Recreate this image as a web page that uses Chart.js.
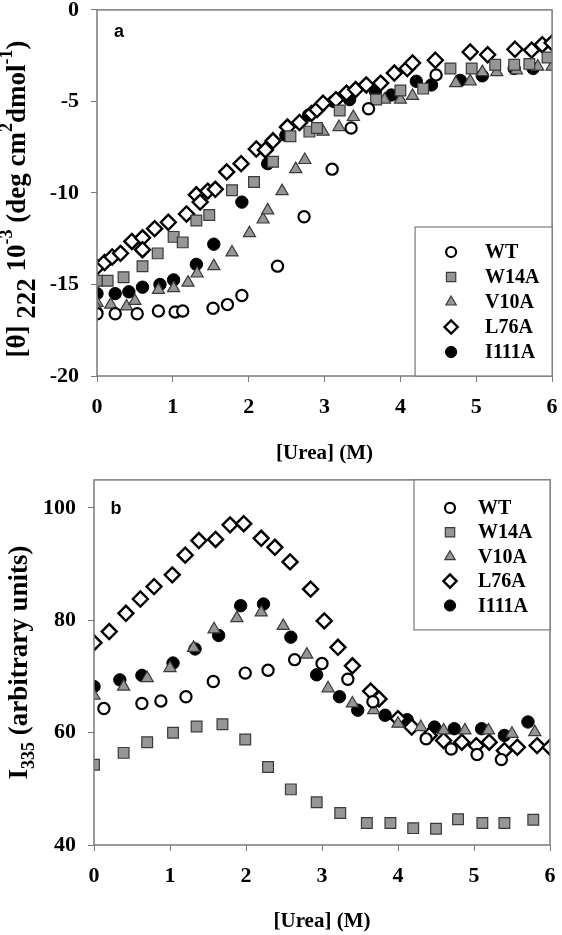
<!DOCTYPE html>
<html>
<head>
<meta charset="utf-8">
<script src="https://cdn.jsdelivr.net/npm/chart.js@4.4.1/dist/chart.umd.min.js"></script>
<style>
  body { margin: 0; background: #fff; }
  #wrapA { position: absolute; left: 0; top: 0; width: 562px; height: 470px; }
  #wrapB { position: absolute; left: 0; top: 470px; width: 562px; height: 465px; }
</style>
</head>
<body>
<div id="wrapA"><canvas id="chartA"></canvas></div>
<div id="wrapB"><canvas id="chartB"></canvas></div>
<script>
// ---- data ----
const seriesNames = ['WT', 'W14A', 'V10A', 'L76A', 'I111A'];
const ureaTicks = [0, 1, 2, 3, 4, 5, 6];
const cdTicks = [0, -5, -10, -15, -20];
const flTicks = [40, 60, 80, 100];

// panel a: [theta]222 (x10^-3)
const cdWT_urea = [0, 0.24, 0.53, 0.81, 1.03, 1.13, 1.53, 1.72, 1.91, 2.38, 2.73, 3.10, 3.35, 3.58, 4.47];
const cdWT = [-16.6, -16.6, -16.6, -16.45, -16.5, -16.45, -16.3, -16.1, -15.6, -14.0, -11.3, -8.7, -6.45, -5.4, -3.55];
const cdW14A_urea = [0, 0.14, 0.35, 0.6, 0.8, 1.01, 1.13, 1.31, 1.48, 1.78, 2.07, 2.32, 2.55, 2.8, 2.9, 3.2, 3.68, 4.0, 4.3, 4.66, 4.94, 5.25, 5.5, 5.7, 5.94];
const cdW14A = [-14.8, -14.8, -14.6, -14.0, -13.3, -12.4, -12.7, -11.5, -11.2, -9.85, -9.4, -8.3, -6.9, -6.65, -6.45, -5.5, -4.9, -4.4, -4.3, -3.2, -3.2, -3.0, -3.0, -2.95, -2.6];
const cdV10A_urea = [0, 0, 0.18, 0.39, 0.5, 0.81, 1.01, 1.2, 1.32, 1.54, 1.78, 2.01, 2.19, 2.25, 2.44, 2.62, 2.74, 2.98, 3.19, 3.38, 3.79, 4.0, 4.16, 4.73, 4.92, 5.08, 5.27, 5.53, 5.81, 6.0];
const cdV10A = [-16.0, -16.3, -16.1, -16.2, -15.9, -15.3, -15.2, -14.9, -14.4, -14.0, -13.25, -12.2, -11.45, -10.95, -9.9, -8.7, -8.2, -6.65, -6.4, -5.85, -4.9, -4.9, -4.7, -4.0, -3.9, -3.4, -3.4, -3.3, -3.1, -3.1];
const cdL76A_urea = [0, 0.1, 0.2, 0.31, 0.46, 0.6, 0.6, 0.76, 0.94, 1.18, 1.31, 1.36, 1.46, 1.56, 1.71, 1.9, 2.1, 2.22, 2.32, 2.51, 2.67, 2.83, 2.9, 2.98, 3.15, 3.29, 3.41, 3.55, 3.74, 3.92, 4.09, 4.16, 4.46, 4.92, 5.15, 5.51, 5.73, 5.87, 6.0];
const cdL76A = [-14.05, -13.8, -13.5, -13.3, -12.65, -12.45, -13.1, -11.95, -11.6, -11.15, -10.1, -10.5, -9.9, -9.8, -8.85, -8.4, -7.6, -7.65, -7.15, -6.4, -6.15, -5.65, -5.45, -5.1, -4.9, -4.55, -4.35, -4.1, -4.0, -3.45, -3.2, -2.9, -2.75, -2.3, -2.45, -2.15, -2.2, -1.9, -1.8];
const cdI111A_urea = [0, 0.24, 0.42, 0.6, 0.83, 1.01, 1.31, 1.54, 1.91, 2.25, 2.49, 2.79, 3.12, 3.33, 3.67, 3.88, 4.21, 4.41, 4.79, 5.08, 5.5, 5.75];
const cdI111A = [-15.5, -15.5, -15.4, -15.15, -15.0, -14.75, -13.9, -12.8, -10.5, -8.4, -6.85, -5.75, -5.0, -4.9, -4.45, -4.65, -3.9, -4.1, -3.85, -3.6, -3.2, -3.2];

// panel b: I335 (arbitrary units)
const flWT_urea = [0.13, 0.63, 0.88, 1.21, 1.57, 1.99, 2.29, 2.64, 3.0, 3.34, 3.67, 4.37, 4.7, 5.04, 5.36];
const flWT = [64.3, 65.2, 65.65, 66.4, 69.1, 70.6, 71.1, 73.0, 72.3, 69.5, 65.5, 58.9, 57.1, 56.1, 55.2];
const flW14A_urea = [0, 0.39, 0.7, 1.04, 1.35, 1.69, 1.99, 2.29, 2.59, 2.93, 3.24, 3.59, 3.9, 4.2, 4.5, 4.79, 5.11, 5.4, 5.78];
const flW14A = [54.3, 56.4, 58.3, 60.0, 61.1, 61.5, 58.8, 53.9, 49.9, 47.6, 45.7, 43.9, 43.9, 43.0, 42.9, 44.6, 43.9, 43.9, 44.5];
const flV10A_urea = [0, 0.39, 0.7, 1.0, 1.31, 1.58, 1.88, 2.2, 2.49, 2.8, 3.08, 3.4, 3.68, 4.0, 4.3, 4.6, 4.88, 5.19, 5.5, 5.8];
const flV10A = [66.6, 68.2, 69.7, 71.5, 75.1, 78.4, 80.4, 81.4, 79.0, 73.9, 67.9, 65.2, 64.0, 61.6, 61.0, 60.4, 60.4, 60.4, 59.8, 60.1];
const flL76A_urea = [0, 0.2, 0.42, 0.61, 0.79, 1.03, 1.2, 1.38, 1.6, 1.79, 1.97, 2.2, 2.38, 2.58, 2.85, 3.03, 3.21, 3.4, 3.64, 3.75, 4.0, 4.18, 4.41, 4.6, 4.84, 5.03, 5.2, 5.4, 5.57, 5.83, 6.0];
const flL76A = [76.0, 78.0, 81.25, 83.8, 86.0, 88.1, 91.6, 94.2, 94.4, 97.0, 97.2, 94.6, 93.0, 90.4, 85.55, 79.9, 75.2, 71.9, 67.4, 66.0, 62.5, 61.0, 59.5, 58.6, 58.3, 57.7, 58.3, 56.8, 57.4, 57.7, 57.4];
const flI111A_urea = [0, 0.34, 0.63, 1.04, 1.33, 1.64, 1.93, 2.23, 2.59, 2.93, 3.23, 3.47, 3.83, 4.12, 4.48, 4.74, 5.1, 5.4, 5.71];
const flI111A = [68.2, 69.4, 70.2, 72.4, 74.9, 77.3, 82.6, 82.9, 77.0, 70.3, 66.4, 64.0, 63.1, 62.3, 61.0, 60.7, 60.7, 59.5, 61.9];

// ---- styles ----
const SERIF = "'Liberation Serif', 'Times New Roman', serif";
const markers = [
  { pointStyle: 'circle', radius: 5.6, legendRadius: 5, backgroundColor: '#ffffff', borderColor: '#000000', borderWidth: 2.2 },
  { pointStyle: 'rect', radius: 7.6, legendRadius: 6.6, backgroundColor: '#969696', borderColor: '#3a3a3a', borderWidth: 1.2 },
  { pointStyle: 'triangle', radius: 7, legendRadius: 6, backgroundColor: '#969696', borderColor: '#3a3a3a', borderWidth: 1.2 },
  { pointStyle: 'rectRot', radius: 7.5, legendRadius: 6.6, backgroundColor: '#ffffff', borderColor: '#000000', borderWidth: 2.4 },
  { pointStyle: 'circle', radius: 6.2, legendRadius: 5.6, backgroundColor: '#000000', borderColor: '#000000', borderWidth: 1 }
];

function pts(xs, ys) {
  return xs.map((x, i) => ({ x: x, y: ys[i] }));
}

function makeDatasets(pairs) {
  return pairs.map((p, i) => ({
    label: seriesNames[i],
    data: pts(p[0], p[1]),
    showLine: false,
    pointStyle: markers[i].pointStyle,
    pointRadius: markers[i].radius,
    pointHoverRadius: markers[i].radius,
    pointBackgroundColor: markers[i].backgroundColor,
    pointBorderColor: markers[i].borderColor,
    pointBorderWidth: markers[i].borderWidth,
    backgroundColor: markers[i].backgroundColor,
    borderColor: markers[i].borderColor
  }));
}

// frame round the plot + panel letter
const framePlugin = {
  id: 'frame',
  afterDraw(chart, args, opts) {
    const { ctx, chartArea: a } = chart;
    ctx.save();
    ctx.strokeStyle = '#7a7a7a';
    ctx.lineWidth = 1.5;
    ctx.strokeRect(a.left, a.top, a.right - a.left, a.bottom - a.top);
    ctx.fillStyle = '#000';
    ctx.font = "bold 18px 'Liberation Sans', Arial, sans-serif";
    ctx.textAlign = 'center';
    ctx.textBaseline = 'middle';
    ctx.fillText(opts.letter, a.left + 22, a.top + opts.letterY);
    ctx.restore();
  }
};

// legend box inside the plot
const insetLegend = {
  id: 'insetLegend',
  afterDraw(chart, args, opts) {
    const { ctx, chartArea: a } = chart;
    const x0 = a.right - opts.width;
    const y0 = opts.atTop ? a.top : a.bottom - opts.height;
    ctx.save();
    ctx.fillStyle = '#fff';
    ctx.fillRect(x0, y0, opts.width, opts.height);
    ctx.strokeStyle = '#7a7a7a';
    ctx.lineWidth = 1.2;
    ctx.strokeRect(x0, y0, opts.width, opts.height);
    chart.data.datasets.forEach((ds, i) => {
      const cy = y0 + opts.firstRow + i * opts.rowGap;
      const m = markers[i];
      ctx.fillStyle = m.backgroundColor;
      ctx.strokeStyle = m.borderColor;
      ctx.lineWidth = m.borderWidth;
      Chart.helpers.drawPoint(ctx, { pointStyle: m.pointStyle, radius: m.legendRadius, rotation: 0, borderWidth: m.borderWidth }, x0 + 36, cy);
      ctx.fillStyle = '#000';
      ctx.font = 'bold 20px ' + SERIF;
      ctx.textBaseline = 'middle';
      ctx.fillText(ds.label, x0 + opts.textX, cy + 1);
    });
    ctx.restore();
  }
};

// rotated y title with sub/superscripts
const yTitlePlugin = {
  id: 'yTitle',
  afterDraw(chart, args, opts) {
    const { ctx, chartArea: a } = chart;
    ctx.save();
    ctx.translate(opts.x, (a.top + a.bottom) / 2 + (opts.shift || 0));
    ctx.rotate(-Math.PI / 2);
    ctx.fillStyle = '#000';
    ctx.textBaseline = 'middle';
    const fontOf = p => 'bold ' + (p.size || opts.size) + 'px ' + SERIF;
    let total = 0;
    opts.parts.forEach(p => { ctx.font = fontOf(p); total += ctx.measureText(p.text).width; });
    let x = -total / 2;
    opts.parts.forEach(p => {
      ctx.font = fontOf(p);
      ctx.fillText(p.text, x, p.dy || 0);
      x += ctx.measureText(p.text).width;
    });
    ctx.restore();
  }
};

function axisOptions(ticks, min, max, yWidth, xHeight, titlePad) {
  return {
    x: {
      type: 'linear',
      min: 0, max: 6,
      afterBuildTicks: s => { s.ticks = ureaTicks.map(v => ({ value: v })); },
      afterFit: s => { s.height = xHeight; s.paddingLeft = 0; s.paddingRight = 0; },
      border: { display: false },
      grid: { drawOnChartArea: false, drawTicks: true, tickLength: 6, color: '#7a7a7a', tickColor: '#7a7a7a' },
      ticks: { color: '#000', padding: 12, font: { family: SERIF, size: 22, weight: 'bold' } },
      title: {
        display: true, text: '[Urea] (M)', color: '#000',
        font: { family: SERIF, size: 21, weight: 'bold', lineHeight: 1 },
        padding: { top: 0, bottom: titlePad }
      }
    },
    y: {
      type: 'linear',
      min: min, max: max,
      afterBuildTicks: s => { s.ticks = ticks.map(v => ({ value: v })); },
      afterFit: s => { s.width = yWidth; s.paddingTop = 0; s.paddingBottom = 0; },
      border: { display: false },
      grid: { drawOnChartArea: false, drawTicks: true, tickLength: 6, color: '#7a7a7a', tickColor: '#7a7a7a' },
      ticks: { color: '#000', padding: 12, font: { family: SERIF, size: 22, weight: 'bold' } }
    }
  };
}

new Chart(document.getElementById('chartA'), {
  type: 'scatter',
  data: {
    datasets: makeDatasets([
      [cdWT_urea, cdWT], [cdW14A_urea, cdW14A], [cdV10A_urea, cdV10A],
      [cdL76A_urea, cdL76A], [cdI111A_urea, cdI111A]
    ])
  },
  options: {
    responsive: true,
    maintainAspectRatio: false,
    animation: false,
    layout: { padding: { left: 0, right: 9, top: 9.5, bottom: 0 } },
    scales: axisOptions(cdTicks, -20, 0, 97, 94, 6),
    plugins: {
      legend: { display: false },
      tooltip: { enabled: false },
      frame: { letter: 'a', letterY: 22 },
      insetLegend: { width: 137, height: 149, atTop: false, firstRow: 25, rowGap: 25, textX: 70 },
      yTitle: {
        x: 18, size: 27, shift: 6,
        parts: [
          { text: '[\u03B8]' }, { text: ' 222 ', dy: 10 }, { text: '10' }, { text: '-3', size: 18, dy: -11 },
          { text: ' (deg cm' }, { text: '2', size: 18, dy: -11 }, { text: 'dmol' }, { text: '-1', size: 18, dy: -11 }, { text: ')' }
        ]
      }
    }
  },
  plugins: [framePlugin, insetLegend, yTitlePlugin]
});

new Chart(document.getElementById('chartB'), {
  type: 'scatter',
  data: {
    datasets: makeDatasets([
      [flWT_urea, flWT], [flW14A_urea, flW14A], [flV10A_urea, flV10A],
      [flL76A_urea, flL76A], [flI111A_urea, flI111A]
    ])
  },
  options: {
    responsive: true,
    maintainAspectRatio: false,
    animation: false,
    layout: { padding: { left: 0, right: 12, top: 7, bottom: 0 } },
    scales: axisOptions(flTicks, 40, 105, 94, 90, 3),
    plugins: {
      legend: { display: false },
      tooltip: { enabled: false },
      frame: { letter: 'b', letterY: 29 },
      insetLegend: { width: 136, height: 150, atTop: true, firstRow: 28, rowGap: 24.4, textX: 64 },
      yTitle: {
        x: 20, size: 27,
        parts: [
          { text: 'I' }, { text: '335', size: 18, dy: 9 }, { text: ' (arbitrary units)' }
        ]
      }
    }
  },
  plugins: [framePlugin, insetLegend, yTitlePlugin]
});
</script>
</body>
</html>
